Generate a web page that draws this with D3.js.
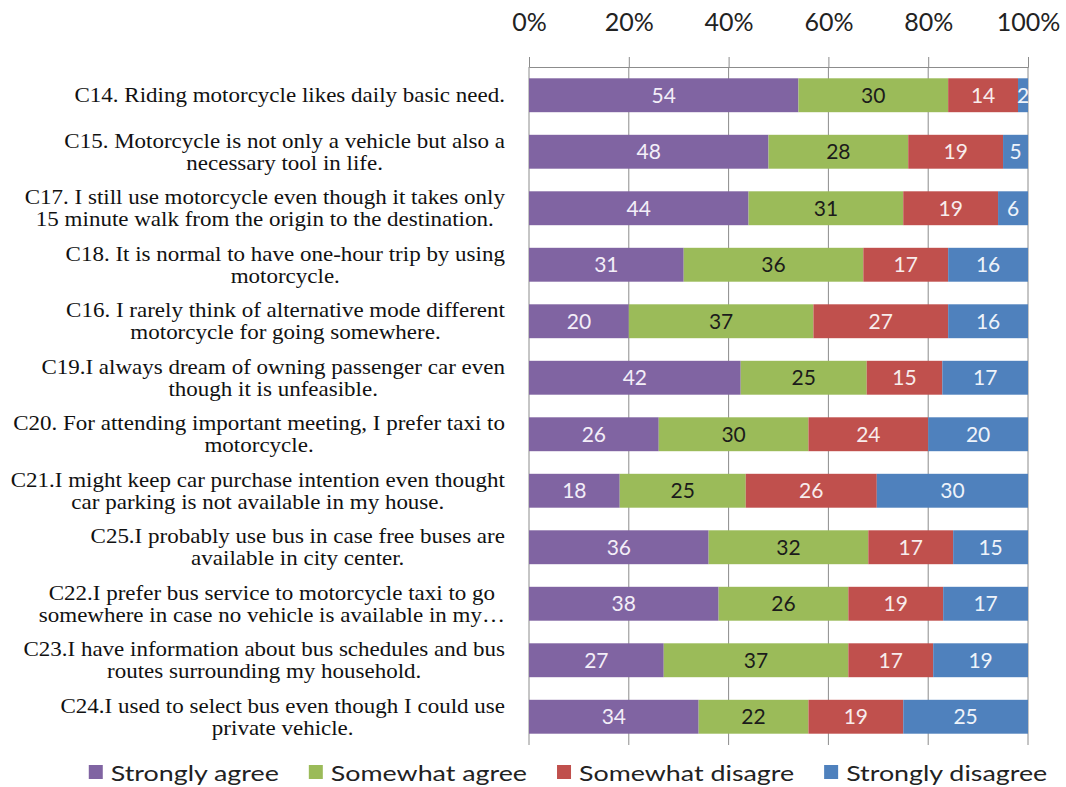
<!DOCTYPE html>
<html>
<head>
<meta charset="utf-8">
<script src="https://cdn.jsdelivr.net/npm/d3@7"></script>
<style>
  html, body { margin: 0; padding: 0; background: #fff; }
  svg { display: block; }
</style>
</head>
<body>
<svg id="chart" width="1066" height="787"></svg>
<script>
// Survey statements (item codes) and their wrapped label text
const items = ["C14", "C15", "C17", "C18", "C16", "C19", "C20", "C21", "C25", "C22", "C23", "C24"];
const itemLabels = [
  ["C14. Riding motorcycle likes daily basic need."],
  ["C15. Motorcycle is not only a vehicle but also a", "necessary tool in life."],
  ["C17. I still use motorcycle even though it takes only", "15 minute walk from the origin to the destination."],
  ["C18. It is normal to have one-hour  trip by using", "motorcycle."],
  ["C16. I rarely think of alternative mode different", "motorcycle for going somewhere."],
  ["C19.I always dream of owning passenger car even", "though it is unfeasible."],
  ["C20. For attending important meeting, I prefer taxi to", "motorcycle."],
  ["C21.I might keep car purchase intention even thought", "car parking is not available in my house."],
  ["C25.I probably use bus in case free buses are", "available in city center."],
  ["C22.I prefer bus service to motorcycle taxi to go", "somewhere in case no vehicle is available in my\u2026"],
  ["C23.I have information about bus schedules and bus", "routes surrounding my household."],
  ["C24.I used to select bus even though I could use", "private vehicle."]
];

// Response shares (%) per statement
const stronglyAgree    = [54, 48, 44, 31, 20, 42, 26, 18, 36, 38, 27, 34];
const somewhatAgree    = [30, 28, 31, 36, 37, 25, 30, 25, 32, 26, 37, 22];
const somewhatDisagree = [14, 19, 19, 17, 27, 15, 24, 26, 17, 19, 17, 19];
const stronglyDisagree = [ 2,  5,  6, 16, 16, 17, 20, 30, 15, 17, 19, 25];

const seriesNames = ["Strongly agree", "Somewhat agree", "Somewhat disagre", "Strongly disagree"];
const seriesKeys  = ["sa", "wa", "wd", "sd"];
const seriesColors = ["#8064A2", "#9BBB59", "#C0504D", "#4F81BD"];
const valueColors  = ["#F3EEF8", "#1B1B1B", "#F8ECEC", "#EEF3FA"];
const xTicks = [0, 0.2, 0.4, 0.6, 0.8, 1];

const rows = items.map((id, i) => ({
  id,
  sa: stronglyAgree[i],
  wa: somewhatAgree[i],
  wd: somewhatDisagree[i],
  sd: stronglyDisagree[i]
}));

const svg = d3.select("#chart");
const margin = { top: 67, left: 529, right: 38, bottom: 42 };
const W = 1066, H = 787;

const x = d3.scaleLinear().domain([0, 1]).range([margin.left, W - margin.right]);
const y = d3.scaleBand().domain(items).range([margin.top, H - margin.bottom])
  .paddingInner(0.4).paddingOuter(0.2);

const stacked = d3.stack().keys(seriesKeys).offset(d3.stackOffsetExpand)(rows);

const sansFont = "Lato, 'Open Sans', sans-serif";
const serifFont = "'Liberation Serif', 'DejaVu Serif', serif";

// Vertical gridlines
svg.append("g")
  .selectAll("line")
  .data(xTicks)
  .join("line")
  .attr("x1", d => x(d)).attr("x2", d => x(d))
  .attr("y1", margin.top).attr("y2", H - margin.bottom)
  .attr("stroke", "#8c8c8c").attr("stroke-width", 1);

// Top percentage axis
const xAxis = d3.axisTop(x).tickValues(xTicks).tickFormat(d3.format(".0%")).tickSizeOuter(0).tickSize(10).tickPadding(26);
const axG = svg.append("g").attr("transform", `translate(0,${margin.top})`).call(xAxis);
axG.select(".domain").attr("stroke", "#8c8c8c");
axG.selectAll(".tick line").attr("stroke", "#8c8c8c");
axG.selectAll(".tick text")
  .attr("font-family", sansFont).attr("font-size", 25).attr("fill", "#222");

// Stacked bars
const layer = svg.append("g").selectAll("g")
  .data(stacked)
  .join("g")
  .attr("fill", (d, i) => seriesColors[i]);

layer.selectAll("rect")
  .data(d => d)
  .join("rect")
  .attr("x", d => x(d[0]))
  .attr("width", d => x(d[1]) - x(d[0]))
  .attr("y", d => y(d.data.id))
  .attr("height", y.bandwidth());

// Value labels centred in each segment
svg.append("g").selectAll("g")
  .data(stacked)
  .join("g")
  .attr("fill", (d, i) => valueColors[i])
  .selectAll("text")
  .data(d => d.map(p => ({ p, key: d.key })))
  .join("text")
  .attr("x", d => (x(d.p[0]) + x(d.p[1])) / 2)
  .attr("y", d => y(d.p.data.id) + y.bandwidth() / 2)
  .attr("dy", "0.36em")
  .attr("text-anchor", "middle")
  .attr("font-family", sansFont)
  .attr("font-size", 21)
  .text(d => d.p.data[d.key]);

// Category labels: lines centred on each other, block right-aligned,
// set in a horizontally widened serif face
const labelRight = 505;
const lineH = 22;
const labelStretch = 1.15;
const catG = svg.append("g");
items.forEach((id, i) => {
  const lines = itemLabels[i];
  const g = catG.append("g");
  const texts = lines.map((ln, j) => g.append("text")
    .attr("font-family", serifFont)
    .attr("font-size", 20)
    .attr("fill", "#111")
    .attr("text-anchor", "middle")
    .attr("x", 0)
    .attr("y", y(id) + y.bandwidth() / 2 + (j - (lines.length - 1) / 2) * lineH)
    .attr("dy", "0.35em")
    .text(ln));
  const maxW = d3.max(texts, t => t.node().getComputedTextLength()) * labelStretch;
  g.attr("transform", `translate(${labelRight - maxW / 2},0) scale(${labelStretch},1)`);
});

// Legend along the bottom
const legY = 773, sw = 14, gapSwatch = 8, gapItem = 30, legStretch = 1.22;
const legG = svg.append("g");
const legItems = seriesNames.map((name, i) => {
  const g = legG.append("g");
  g.append("rect").attr("width", sw).attr("height", sw).attr("y", legY - sw / 2 - 1).attr("fill", seriesColors[i]);
  const t = g.append("text")
    .attr("transform", `translate(${sw + gapSwatch},${legY}) scale(${legStretch},1)`)
    .attr("dy", "0.35em")
    .attr("font-family", sansFont).attr("font-size", 22).attr("fill", "#222").text(name);
  return { g, w: sw + gapSwatch + t.node().getComputedTextLength() * legStretch };
});
const totalW = d3.sum(legItems, d => d.w) + gapItem * (legItems.length - 1);
let cx = 568 - totalW / 2;
legItems.forEach(it => { it.g.attr("transform", `translate(${cx},0)`); cx += it.w + gapItem; });
</script>
</body>
</html>
